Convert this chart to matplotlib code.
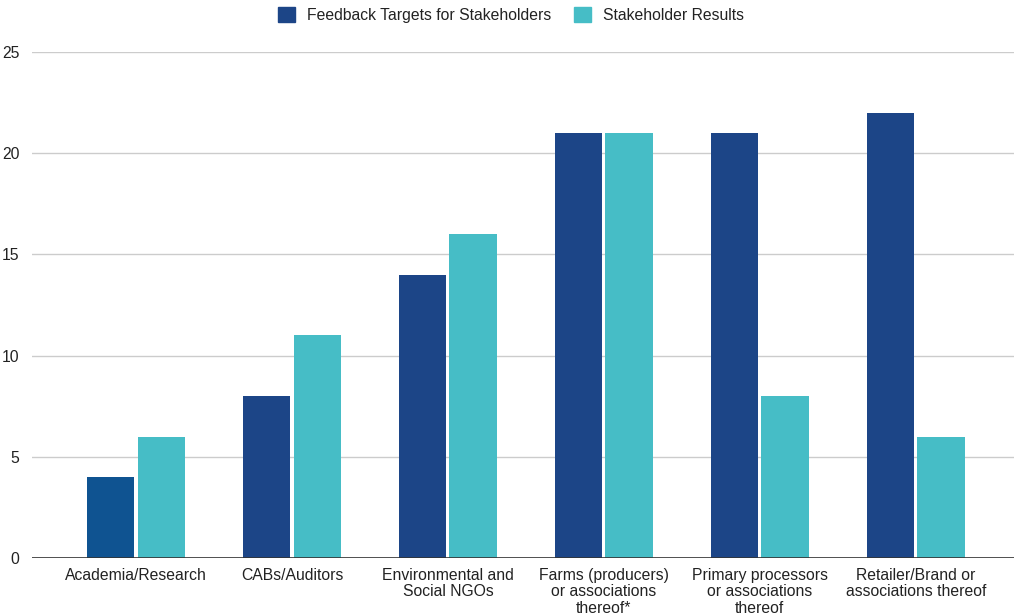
import numpy as np
from matplotlib import pyplot as plt
from matplotlib.patches import Patch

plt.rcParams['font.family'] = ['Liberation Sans', 'DejaVu Sans']

categories = ['Academia/Research', 'CABs/Auditors', 'Environmental and\nSocial NGOs',
              'Farms (producers)\nor associations\nthereof*', 'Primary processors\nor associations\nthereof',
              'Retailer/Brand or\nassociations thereof']
targets = [4, 8, 14, 21, 21, 22]
results = [6, 11, 16, 21, 8, 6]
target_colors = ['#0f5391', '#1c4587', '#1c4587', '#1c4587', '#1c4587', '#1c4587']
dark = '#1c4587'
teal = '#46bdc6'

fig = plt.figure(figsize=(10.22, 6.14), dpi=100)
ax = fig.add_axes([32 / 1022, 56 / 614, 982 / 1022, 506 / 614])

x = np.arange(len(categories))
w = 0.305
ax.bar(x - w / 2 - 0.01, targets, w, color=target_colors, zorder=3)
ax.bar(x + w / 2 + 0.01, results, w, color=teal, zorder=3)

ax.set_xlim(-0.667, 5.63)
ax.set_ylim(0, 25)
ax.set_yticks([0, 5, 10, 15, 20, 25])
ax.yaxis.grid(True, color='#cccccc', linewidth=1, zorder=0)
ax.axhline(0, color='#333333', linewidth=1.2, zorder=4)
for s in ax.spines.values():
    s.set_visible(False)
ax.tick_params(axis='both', length=0, labelsize=11.3, colors='#222222')
ax.tick_params(axis='y', pad=9)
ax.tick_params(axis='x', pad=7)
ax.set_xticks(x)
ax.set_xticklabels(categories, linespacing=1.12)

handles = [Patch(color=dark, label='Feedback Targets for Stakeholders'),
           Patch(color=teal, label='Stakeholder Results')]
fig.legend(handles=handles, loc='center', bbox_to_anchor=(0.5, 1 - 15 / 614), ncol=2,
           frameon=False, fontsize=11.3, handlelength=1.1, handleheight=1.1,
           handletextpad=0.8, columnspacing=1.4, labelcolor='#222222')

fig.savefig('out.png', dpi=100)
